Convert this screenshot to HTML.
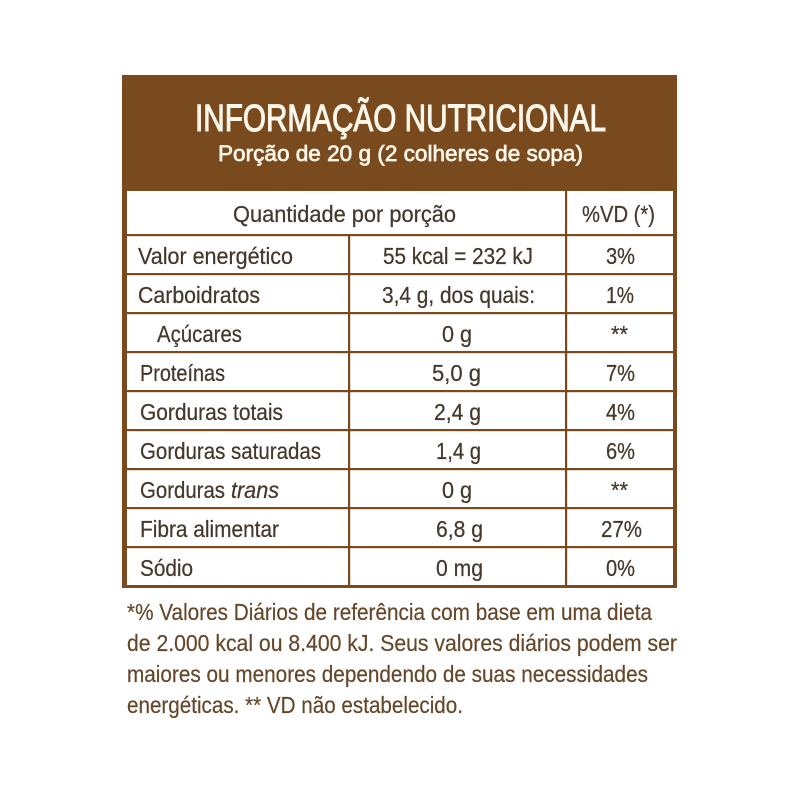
<!DOCTYPE html>
<html><head><meta charset="utf-8"><style>
html,body{margin:0;padding:0;background:#fff;}
svg{display:block;}
text{font-family:"Liberation Sans",sans-serif;}
.t{fill:#45382c;font-size:23.5px;stroke:#45382c;stroke-width:0.25;}
.f{fill:#654729;font-size:23px;stroke:#654729;stroke-width:0.2;}
</style></head><body>
<svg width="800" height="800" viewBox="0 0 800 800" xmlns="http://www.w3.org/2000/svg">
<rect x="0" y="0" width="800" height="800" fill="#fff"/>
<!-- outer box -->
<rect x="122" y="75" width="555" height="513" fill="#784a1e"/>
<rect x="127" y="191" width="546" height="394" fill="#fff"/>
<!-- header text -->
<text x="195" y="131" font-size="38" fill="#fdf6ea" stroke="#fdf6ea" stroke-width="1.1" textLength="411" lengthAdjust="spacingAndGlyphs">INFORMAÇÃO NUTRICIONAL</text>
<text x="218" y="161" font-size="22.5" fill="#fdf6ea" stroke="#fdf6ea" stroke-width="0.7" textLength="365" lengthAdjust="spacingAndGlyphs">Porção de 20 g (2 colheres de sopa)</text>
<!-- lines -->
<g fill="#784a1e">
<rect x="127" y="234" width="546" height="2.2"/>
<rect x="127" y="273" width="546" height="2.2"/>
<rect x="127" y="312" width="546" height="2.2"/>
<rect x="127" y="351" width="546" height="2.2"/>
<rect x="127" y="390" width="546" height="2.2"/>
<rect x="127" y="429" width="546" height="2.2"/>
<rect x="127" y="468" width="546" height="2.2"/>
<rect x="127" y="507" width="546" height="2.2"/>
<rect x="127" y="546" width="546" height="2.2"/>
<rect x="348" y="235" width="2.2" height="350"/>
<rect x="565" y="191" width="2.2" height="394"/>
</g>
<!-- header row -->
<text class="t" x="233" y="222" textLength="223" lengthAdjust="spacingAndGlyphs">Quantidade por porção</text>
<text class="t" x="582" y="222" textLength="73" lengthAdjust="spacingAndGlyphs">%VD (*)</text>
<!-- left column -->
<text class="t" x="138" y="264" textLength="155" lengthAdjust="spacingAndGlyphs">Valor energético</text>
<text class="t" x="138" y="303" textLength="122" lengthAdjust="spacingAndGlyphs">Carboidratos</text>
<text class="t" x="157" y="342" textLength="85" lengthAdjust="spacingAndGlyphs">Açúcares</text>
<text class="t" x="140" y="381" textLength="85" lengthAdjust="spacingAndGlyphs">Proteínas</text>
<text class="t" x="140" y="420" textLength="143" lengthAdjust="spacingAndGlyphs">Gorduras totais</text>
<text class="t" x="140" y="459" textLength="181" lengthAdjust="spacingAndGlyphs">Gorduras saturadas</text>
<text class="t" x="140" y="498" textLength="85" lengthAdjust="spacingAndGlyphs">Gorduras</text>
<text class="t" x="231" y="498" font-style="italic" textLength="48" lengthAdjust="spacingAndGlyphs">trans</text>
<text class="t" x="140" y="537" textLength="139" lengthAdjust="spacingAndGlyphs">Fibra alimentar</text>
<text class="t" x="140" y="576" textLength="53" lengthAdjust="spacingAndGlyphs">Sódio</text>
<!-- middle column -->
<text class="t" x="383" y="264" textLength="150" lengthAdjust="spacingAndGlyphs">55 kcal = 232 kJ</text>
<text class="t" x="382" y="303" textLength="153" lengthAdjust="spacingAndGlyphs">3,4 g, dos quais:</text>
<text class="t" x="442" y="342" textLength="30" lengthAdjust="spacingAndGlyphs">0 g</text>
<text class="t" x="432" y="381" textLength="49" lengthAdjust="spacingAndGlyphs">5,0 g</text>
<text class="t" x="434" y="420" textLength="47" lengthAdjust="spacingAndGlyphs">2,4 g</text>
<text class="t" x="436" y="459" textLength="45" lengthAdjust="spacingAndGlyphs">1,4 g</text>
<text class="t" x="442" y="498" textLength="30" lengthAdjust="spacingAndGlyphs">0 g</text>
<text class="t" x="436" y="537" textLength="47" lengthAdjust="spacingAndGlyphs">6,8 g</text>
<text class="t" x="436" y="576" textLength="47" lengthAdjust="spacingAndGlyphs">0 mg</text>
<!-- VD column -->
<text class="t" x="606" y="264" textLength="29" lengthAdjust="spacingAndGlyphs">3%</text>
<text class="t" x="606" y="303" textLength="28" lengthAdjust="spacingAndGlyphs">1%</text>
<text class="t" x="611" y="342" textLength="17" lengthAdjust="spacingAndGlyphs">**</text>
<text class="t" x="606" y="381" textLength="29" lengthAdjust="spacingAndGlyphs">7%</text>
<text class="t" x="606" y="420" textLength="29" lengthAdjust="spacingAndGlyphs">4%</text>
<text class="t" x="606" y="459" textLength="29" lengthAdjust="spacingAndGlyphs">6%</text>
<text class="t" x="611" y="498" textLength="17" lengthAdjust="spacingAndGlyphs">**</text>
<text class="t" x="601" y="537" textLength="41" lengthAdjust="spacingAndGlyphs">27%</text>
<text class="t" x="606" y="576" textLength="29" lengthAdjust="spacingAndGlyphs">0%</text>
<!-- footer -->
<text class="f" x="127" y="620" textLength="525" lengthAdjust="spacingAndGlyphs">*% Valores Diários de referência com base em uma dieta</text>
<text class="f" x="127" y="651" textLength="550" lengthAdjust="spacingAndGlyphs">de 2.000 kcal ou 8.400 kJ. Seus valores diários podem ser</text>
<text class="f" x="127" y="682" textLength="521" lengthAdjust="spacingAndGlyphs">maiores ou menores dependendo de suas necessidades</text>
<text class="f" x="127" y="713" textLength="336" lengthAdjust="spacingAndGlyphs">energéticas. ** VD não estabelecido.</text>
</svg>
</body></html>
